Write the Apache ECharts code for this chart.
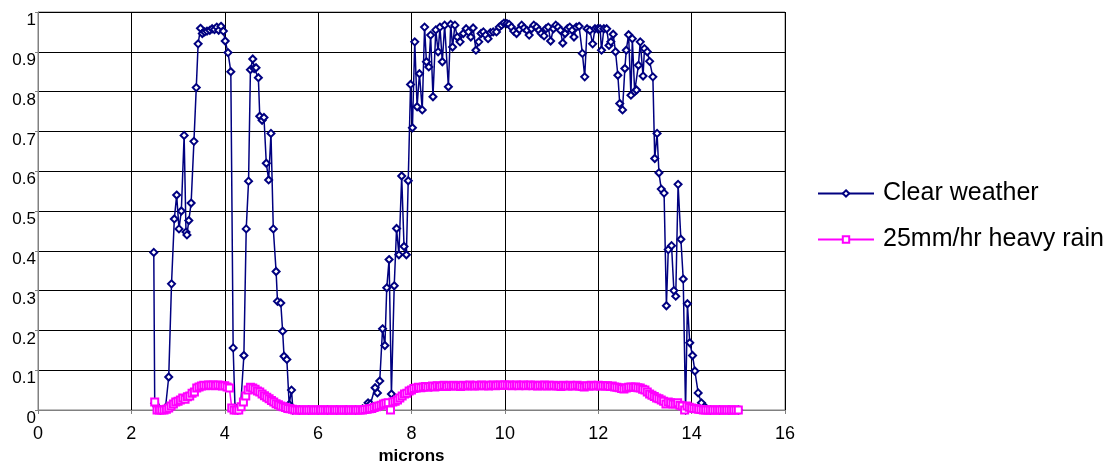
<!DOCTYPE html>
<html>
<head>
<meta charset="utf-8">
<script src="https://cdn.jsdelivr.net/npm/echarts@6/dist/echarts.min.js"></script>
<style>
  html, body { margin: 0; padding: 0; background: #fff; }
  #chart { width: 1114px; height: 463px; }
</style>
</head>
<body>
<div id="chart"></div>
<script>
// transmission vs wavelength
var seriesNames = ["Clear weather", "25mm/hr heavy rain"];
var xTicks = [0, 2, 4, 6, 8, 10, 12, 14, 16];

// [microns, transmission]
var clearWeather = [
  [2.48,0.396],[2.50,0.017],[2.55,0.008],[2.62,0.0],[2.73,0.005],[2.80,0.083],[2.86,0.317],[2.92,0.48],[2.97,0.54],[3.02,0.455],
  [3.07,0.50],[3.13,0.69],[3.17,0.447],[3.19,0.44],[3.23,0.476],[3.28,0.52],[3.34,0.675],[3.39,0.81],[3.43,0.92],[3.48,0.959],
  [3.52,0.946],[3.57,0.95],[3.62,0.952],[3.68,0.954],[3.73,0.958],[3.78,0.956],[3.83,0.962],[3.87,0.954],[3.92,0.964],[3.97,0.952],
  [4.01,0.927],[4.07,0.898],[4.13,0.85],[4.18,0.156],[4.22,0.006],[4.28,0.0],[4.34,0.01],[4.41,0.137],[4.46,0.455],[4.51,0.575],
  [4.55,0.855],[4.60,0.882],[4.63,0.858],[4.67,0.86],[4.72,0.835],[4.75,0.738],[4.80,0.728],[4.84,0.735],[4.89,0.62],[4.94,0.578],
  [4.99,0.695],[5.04,0.455],[5.10,0.348],[5.13,0.273],[5.20,0.269],[5.24,0.198],[5.27,0.135],[5.33,0.127],[5.38,0.014],[5.43,0.05],
  [5.46,0.0],[5.6,0.0],[5.8,0.0],[6.0,0.0],[6.2,0.0],[6.4,0.0],[6.6,0.0],[6.8,0.0],[6.95,0.003],[7.07,0.018],
  [7.12,0.015],[7.22,0.056],[7.27,0.043],[7.32,0.073],[7.38,0.204],[7.43,0.162],[7.47,0.307],[7.52,0.378],[7.57,0.04],[7.63,0.312],
  [7.68,0.456],[7.73,0.39],[7.79,0.588],[7.84,0.411],[7.89,0.39],[7.93,0.576],[7.98,0.818],[8.02,0.709],[8.07,0.925],[8.12,0.762],
  [8.17,0.845],[8.23,0.754],[8.28,0.962],[8.32,0.875],[8.37,0.862],[8.41,0.942],[8.46,0.787],[8.52,0.955],[8.57,0.9],[8.61,0.962],
  [8.66,0.875],[8.71,0.967],[8.79,0.812],[8.84,0.969],[8.88,0.912],[8.93,0.967],[8.98,0.937],[9.04,0.925],[9.11,0.946],[9.17,0.958],
  [9.22,0.95],[9.27,0.937],[9.32,0.96],[9.38,0.904],[9.44,0.925],[9.49,0.946],[9.54,0.95],[9.59,0.942],[9.64,0.933],[9.69,0.948],
  [9.75,0.95],[9.82,0.95],[9.88,0.962],[9.93,0.967],[9.98,0.972],[10.04,0.971],[10.09,0.969],[10.14,0.962],[10.19,0.952],[10.25,0.946],
  [10.31,0.956],[10.36,0.967],[10.41,0.96],[10.47,0.954],[10.52,0.942],[10.57,0.958],[10.62,0.967],[10.68,0.962],[10.73,0.954],[10.78,0.946],
  [10.84,0.94],[10.88,0.958],[10.93,0.962],[10.98,0.927],[11.04,0.958],[11.09,0.967],[11.14,0.962],[11.19,0.954],[11.24,0.922],[11.29,0.946],
  [11.34,0.958],[11.39,0.962],[11.44,0.954],[11.48,0.937],[11.53,0.962],[11.59,0.964],[11.66,0.896],[11.71,0.837],[11.76,0.958],[11.82,0.954],
  [11.88,0.92],[11.93,0.958],[11.99,0.958],[12.04,0.958],[12.07,0.904],[12.12,0.958],[12.18,0.958],[12.23,0.916],[12.27,0.925],[12.32,0.944],
  [12.37,0.9],[12.42,0.841],[12.46,0.77],[12.52,0.754],[12.57,0.858],[12.60,0.904],[12.65,0.943],[12.70,0.791],[12.73,0.933],[12.78,0.8],
  [12.82,0.804],[12.86,0.866],[12.90,0.925],[12.96,0.839],[12.99,0.908],[13.05,0.9],[13.10,0.876],[13.17,0.837],[13.21,0.632],[13.26,0.695],
  [13.30,0.596],[13.35,0.555],[13.41,0.545],[13.46,0.262],[13.50,0.403],[13.57,0.413],[13.62,0.3],[13.66,0.286],[13.71,0.567],[13.77,0.429],
  [13.82,0.329],[13.87,0.0],[13.91,0.267],[13.96,0.169],[14.02,0.137],[14.07,0.098],[14.14,0.043],[14.21,0.018],[14.28,0.008],[14.4,0.0],
  [14.6,0.0],[14.8,0.0],[15.0,0.0]
];

var heavyRain = [
  [2.50,0.02],[2.55,0.0],[2.60,0.0],[2.65,0.0],[2.70,0.0],[2.75,0.002],[2.80,0.005],[2.85,0.01],[2.90,0.015],[2.95,0.02],
  [3.00,0.022],[3.05,0.025],[3.10,0.03],[3.15,0.027],[3.20,0.033],[3.25,0.035],[3.30,0.042],[3.35,0.045],[3.40,0.055],[3.45,0.058],
  [3.50,0.06],[3.55,0.062],[3.60,0.061],[3.65,0.063],[3.70,0.062],[3.75,0.063],[3.80,0.061],[3.85,0.063],[3.90,0.062],[3.95,0.06],
  [4.00,0.061],[4.05,0.058],[4.10,0.055],[4.15,0.005],[4.20,0.0],[4.25,0.0],[4.30,0.0],[4.35,0.008],[4.40,0.02],[4.45,0.035],
  [4.50,0.05],[4.55,0.057],[4.60,0.055],[4.65,0.052],[4.70,0.048],[4.75,0.045],[4.80,0.04],[4.85,0.036],[4.90,0.032],[4.95,0.028],
  [5.00,0.024],[5.05,0.02],[5.10,0.016],[5.15,0.013],[5.20,0.01],[5.25,0.008],[5.30,0.006],[5.35,0.004],[5.40,0.003],[5.45,0.002],
  [5.50,0.0],[5.55,0.0],[5.60,0.0],[5.65,0.0],[5.70,0.0],[5.75,0.0],[5.80,0.0],[5.85,0.0],[5.90,0.0],[5.95,0.0],
  [6.00,0.0],[6.05,0.0],[6.10,0.0],[6.15,0.0],[6.20,0.0],[6.25,0.0],[6.30,0.0],[6.35,0.0],[6.40,0.0],[6.45,0.0],
  [6.50,0.0],[6.55,0.0],[6.60,0.0],[6.65,0.0],[6.70,0.0],[6.75,0.0],[6.80,0.0],[6.85,0.0],[6.90,0.0],[6.95,0.0],
  [7.00,0.001],[7.05,0.002],[7.10,0.003],[7.15,0.004],[7.20,0.006],[7.25,0.008],[7.30,0.01],[7.35,0.012],[7.40,0.015],[7.45,0.017],
  [7.50,0.018],[7.55,0.0],[7.60,0.02],[7.65,0.022],[7.70,0.025],[7.75,0.03],[7.80,0.035],[7.85,0.04],[7.90,0.042],[7.95,0.048],
  [8.00,0.05],[8.05,0.054],[8.10,0.055],[8.15,0.057],[8.20,0.056],[8.25,0.058],[8.30,0.059],[8.35,0.057],[8.40,0.059],[8.45,0.06],
  [8.50,0.058],[8.55,0.061],[8.60,0.059],[8.65,0.06],[8.70,0.062],[8.75,0.059],[8.80,0.061],[8.85,0.06],[8.90,0.062],[8.95,0.06],
  [9.00,0.061],[9.05,0.059],[9.10,0.062],[9.15,0.06],[9.20,0.061],[9.25,0.063],[9.30,0.061],[9.35,0.06],[9.40,0.062],[9.45,0.061],
  [9.50,0.063],[9.55,0.061],[9.60,0.062],[9.65,0.06],[9.70,0.062],[9.75,0.063],[9.80,0.061],[9.85,0.062],[9.90,0.063],[9.95,0.062],
  [10.00,0.063],[10.05,0.062],[10.10,0.063],[10.15,0.061],[10.20,0.062],[10.25,0.063],[10.30,0.061],[10.35,0.062],[10.40,0.063],[10.45,0.061],
  [10.50,0.062],[10.55,0.063],[10.60,0.061],[10.65,0.062],[10.70,0.06],[10.75,0.062],[10.80,0.061],[10.85,0.063],[10.90,0.06],[10.95,0.062],
  [11.00,0.061],[11.05,0.062],[11.10,0.06],[11.15,0.061],[11.20,0.059],[11.25,0.062],[11.30,0.061],[11.35,0.06],[11.40,0.062],[11.45,0.06],
  [11.50,0.061],[11.55,0.062],[11.60,0.06],[11.65,0.059],[11.70,0.058],[11.75,0.061],[11.80,0.06],[11.85,0.062],[11.90,0.06],[11.95,0.061],
  [12.00,0.062],[12.05,0.06],[12.10,0.061],[12.15,0.06],[12.20,0.061],[12.25,0.059],[12.30,0.06],[12.35,0.058],[12.40,0.057],[12.45,0.056],
  [12.50,0.054],[12.55,0.053],[12.60,0.055],[12.65,0.057],[12.70,0.058],[12.75,0.057],[12.80,0.058],[12.85,0.056],[12.90,0.055],[12.95,0.052],
  [13.00,0.05],[13.05,0.045],[13.10,0.04],[13.15,0.037],[13.20,0.034],[13.25,0.03],[13.30,0.028],[13.35,0.025],[13.40,0.022],[13.45,0.015],
  [13.50,0.02],[13.55,0.018],[13.60,0.015],[13.65,0.015],[13.70,0.018],[13.75,0.012],[13.80,0.01],[13.85,0.0],[13.90,0.01],[13.95,0.007],
  [14.00,0.005],[14.05,0.004],[14.10,0.003],[14.15,0.002],[14.20,0.001],[14.25,0.0],[14.30,0.0],[14.35,0.0],[14.40,0.0],[14.45,0.0],
  [14.50,0.0],[14.55,0.0],[14.60,0.0],[14.65,0.0],[14.70,0.0],[14.75,0.0],[14.80,0.0],[14.85,0.0],[14.90,0.0],[14.95,0.0],
  [15.00,0.0]
];

var FONT = "Liberation Sans, Arial, sans-serif";

var chart = echarts.init(document.getElementById("chart"), null, { renderer: "canvas" });

var option = {
  animation: false,
  backgroundColor: "#fff",
  textStyle: { fontFamily: FONT },
  grid: {
    left: 38,
    right: 329,
    top: 12,
    bottom: 53,
    outerBoundsMode: "none",
    containLabel: false,
    show: true,
    borderColor: "#808080",
    borderWidth: 1
  },
  legend: {
    orient: "vertical",
    left: 812,
    top: 176,
    itemWidth: 56,
    itemHeight: 8,
    itemGap: 21,
    textStyle: { fontFamily: FONT, fontSize: 25, color: "#000", padding: [0, 0, 0, 4] },
    data: seriesNames
  },
  xAxis: {
    type: "value",
    min: 0,
    max: 16,
    interval: 2,
    name: "microns",
    nameLocation: "middle",
    nameGap: 37,
    nameTextStyle: { fontFamily: FONT, fontSize: 17, fontWeight: "bold", color: "#000" },
    axisLine: { lineStyle: { color: "#808080", width: 1 } },
    axisTick: { show: true, length: 4, lineStyle: { color: "#808080" } },
    axisLabel: {
      fontFamily: FONT, fontSize: 18, color: "#000", margin: 15,
      formatter: function (v) { return xTicks.indexOf(v) >= 0 ? String(v) : ""; }
    },
    splitLine: { show: true, lineStyle: { color: "#000", width: 1 } }
  },
  yAxis: {
    type: "value",
    min: 0,
    max: 1,
    interval: 0.1,
    axisLine: { show: true, lineStyle: { color: "#808080", width: 1 } },
    axisTick: { show: true, length: 3, lineStyle: { color: "#808080" } },
    axisLabel: {
      fontFamily: FONT, fontSize: 17, color: "#000", margin: 2,
      verticalAlign: "top", lineHeight: 17,
      formatter: function (v) { return String(Math.round(v * 10) / 10); }
    },
    splitLine: { show: true, lineStyle: { color: "#000", width: 1 } }
  },
  series: [
    {
      name: seriesNames[0],
      type: "line",
      data: clearWeather,
      color: "#000080",
      symbol: "emptyDiamond",
      symbolSize: 7,
      showAllSymbol: true,
      lineStyle: { width: 1.5, color: "#000080" },
      itemStyle: { color: "#000080", borderWidth: 1.6 },
      z: 2
    },
    {
      name: seriesNames[1],
      type: "line",
      data: heavyRain,
      color: "#ff00ff",
      symbol: "emptyRect",
      symbolSize: 7,
      showAllSymbol: true,
      lineStyle: { width: 1.5, color: "#ff00ff" },
      itemStyle: { color: "#ff00ff", borderWidth: 1.4 },
      z: 3
    }
  ]
};

chart.setOption(option);
</script>
</body>
</html>
